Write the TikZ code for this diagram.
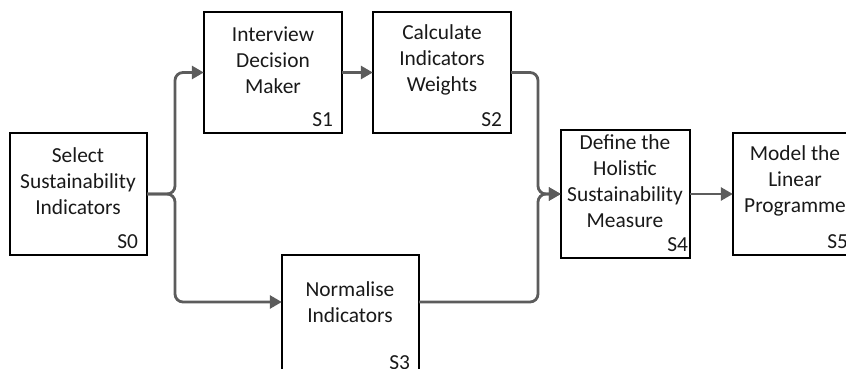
\documentclass[tikz,border=0pt]{standalone}
\usepackage{fontspec}
\setmainfont{Carlito}
\usetikzlibrary{arrows.meta}
\definecolor{conn}{HTML}{5C5C5C}
\tikzset{
  boxtext/.style={align=center, font=\fontsize{21.4}{26}\selectfont, inner sep=0pt, text=black!90},
  slabel/.style={anchor=south east, font=\fontsize{21.4}{26}\selectfont, inner sep=0pt, text=black!90},
  conn/.style={draw=conn, line width=2.8pt, rounded corners=8pt, -{Triangle[length=12pt,width=13pt]}},
  boxline/.style={line width=1.6pt},
}
\begin{document}
\begin{tikzpicture}[x=1pt,y=-1pt]
\useasboundingbox (0,0) rectangle (846,369);
\begin{scope}
\clip (0,0) rectangle (846,369);
% boxes
\node[inner sep=0pt] (s0) at (78.5,194) [minimum width=137pt, minimum height=122pt] {};
\node[inner sep=0pt] (s1) at (273,72.5) [minimum width=138pt, minimum height=121pt] {};
\node[inner sep=0pt] (s2) at (442,72.5) [minimum width=138pt, minimum height=121pt] {};
\node[inner sep=0pt] (s3) at (350.5,315.5) [minimum width=137pt, minimum height=121pt] {};
\node[inner sep=0pt] (s4) at (625.5,194) [minimum width=129pt, minimum height=128pt] {};
\node[inner sep=0pt] (s5) at (795,194) [minimum width=124pt, minimum height=122pt] {};
\foreach \n in {s0,s1,s2,s3,s4,s5}{\draw[boxline] (\n.north west) rectangle (\n.south east);}
% texts
\node[boxtext] (t0) at (78,181) {Select\\Sustainability\\Indicators};
\node[boxtext] (t1) at (273,60) {Interview\\Decision\\Maker};
\node[boxtext] (t2) at (442,60) {Calculate\\Indicators\\Weights};
\node[boxtext] (t3) at (350,302) {Normalise\\Indicators};
\node[boxtext] (t4) at (625,181) {Define the\\Holistic\\Sustainability\\Measure};
\node[boxtext] (t5) at (795,181) {Model the\\Linear\\Programme};
\node[slabel] (l0) at ([xshift=-9pt,yshift=6pt]s0.south east) {S0};
\node[slabel] (l1) at ([xshift=-9pt,yshift=6pt]s1.south east) {S1};
\node[slabel] (l2) at ([xshift=-9pt,yshift=6pt]s2.south east) {S2};
\node[slabel] (l3) at ([xshift=-9pt,yshift=6pt]s3.south east) {S3};
\node[slabel] (l4) at ([xshift=-2pt,yshift=6pt]s4.south east) {S4};
\node[slabel] (l5) at ([xshift=-9pt,yshift=6pt]s5.south east) {S5};
% connectors
\coordinate (j0) at (175,0);
\coordinate (j1) at (538,0);
\draw[conn] (s0.east) -| (j0 |- s1.west) -- (s1.west);
\draw[conn] (s0.east) -| (j0 |- t3) -- (s3.west |- t3);
\draw[conn] (s1.east) -- (s2.west |- s1.east);
\draw[conn] (s2.east) -| (j1 |- s4.west) -- (s4.west);
\draw[conn] (s3.east |- t3) -| (j1 |- s4.west) -- (s4.west);
\draw[conn] (s4.east) -- (s5.west |- s4.east);
\end{scope}
\end{tikzpicture}
\end{document}
